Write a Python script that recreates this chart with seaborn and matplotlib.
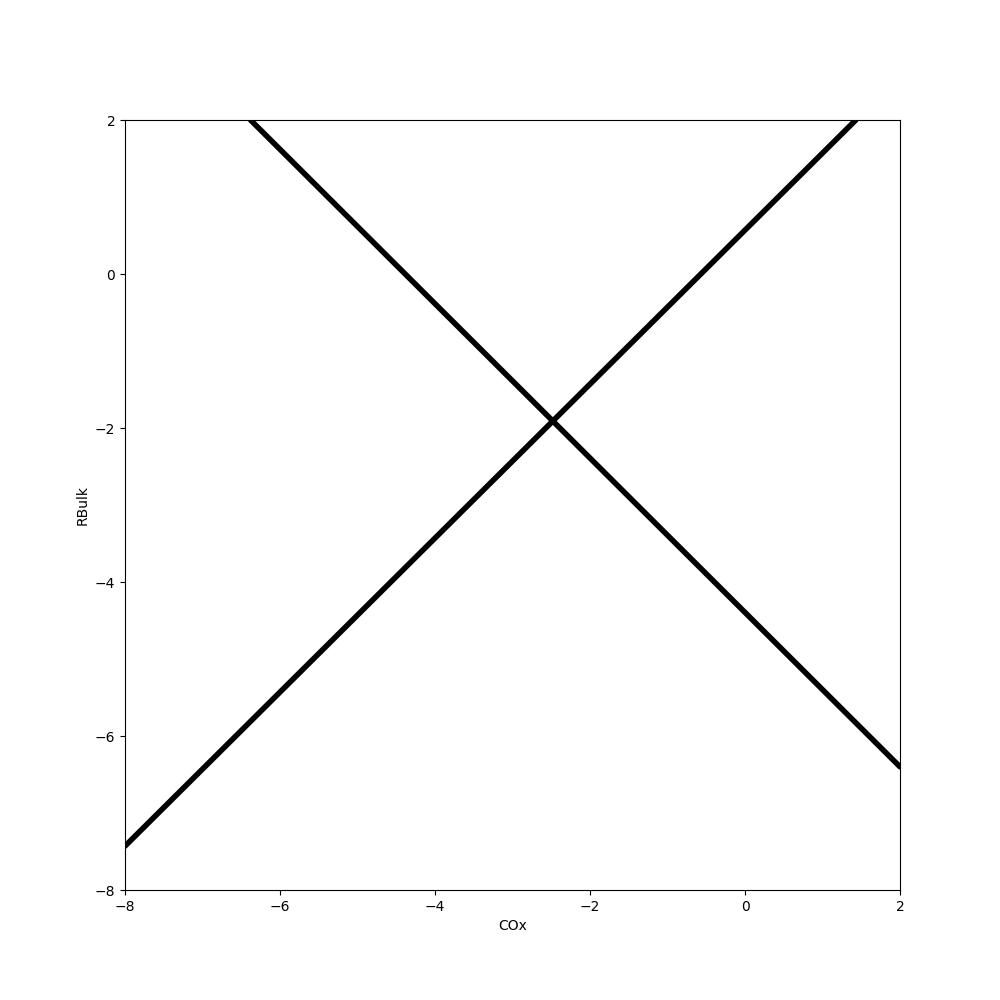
import matplotlib
matplotlib.use("Agg")
import matplotlib.pyplot as plt
import seaborn as sns
import pandas as pd

# Line endpoints
rising_x = [-8.0, 1.43]
rising_y = [-7.43, 2.0]
falling_x = [-6.38, 2.0]
falling_y = [2.0, -6.4]

x_ticks = [-8, -6, -4, -2, 0, 2]
y_ticks = [-8, -6, -4, -2, 0, 2]

sns.set_style("ticks", rc={"text.color": "black", "axes.labelcolor": "black",
                           "xtick.color": "black", "ytick.color": "black",
                           "axes.edgecolor": "black"})
plt.rcParams['font.family'] = ['DejaVu Sans']

fig, ax = plt.subplots(figsize=(10, 10), dpi=100)
df1 = pd.DataFrame({"COx": rising_x, "RBulk": rising_y})
df2 = pd.DataFrame({"COx": falling_x, "RBulk": falling_y})
sns.lineplot(data=df1, x="COx", y="RBulk", color="black", linewidth=4, ax=ax)
sns.lineplot(data=df2, x="COx", y="RBulk", color="black", linewidth=4, ax=ax)

ax.set_xlim(-8, 2)
ax.set_ylim(-8, 2)
ax.set_xticks(x_ticks)
ax.set_yticks(y_ticks)
ax.set_xlabel("COx")
ax.set_ylabel("RBulk")
for s in ax.spines.values():
    s.set_visible(True)
    s.set_linewidth(0.8)
    s.set_color("black")

fig.savefig("out.png", dpi=100)
